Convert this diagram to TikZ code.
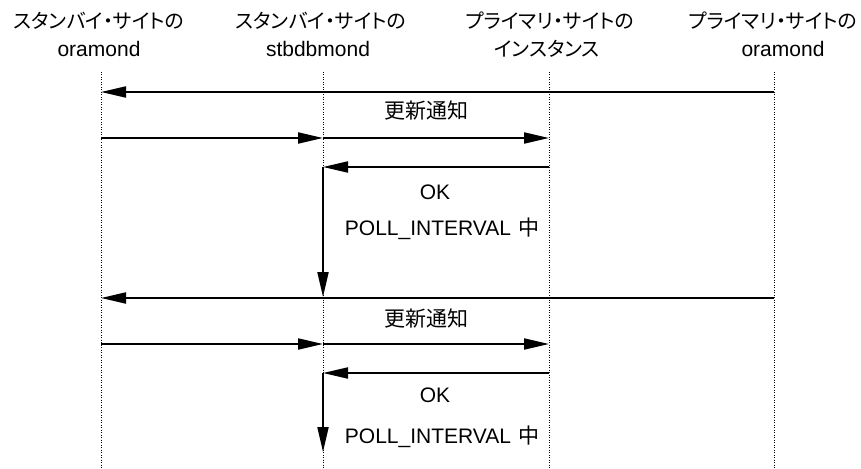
\documentclass[tikz,border=0pt]{standalone}
\usepackage{fontspec}
\setmainfont{Liberation Sans}
\newfontfamily\jp[RawFeature=+palt]{Noto Sans CJK JP}
\newfontfamily\jpk{Noto Sans CJK JP}
\usetikzlibrary{arrows.meta}
\begin{document}
\begin{tikzpicture}[x=1pt,y=-1pt,
  lifeline/.style={line width=0.9pt, dash pattern=on 0.9pt off 1.6pt},
  msg/.style={line width=2pt, -{Triangle[length=25pt,width=11pt]}},
  seg/.style={line width=2pt},
  jtxt/.style={inner sep=0, anchor=base, font=\jp\fontsize{20}{24}\selectfont},
  ltxt/.style={inner sep=0, anchor=base, font=\fontsize{21}{24}\selectfont},
  ktxt/.style={inner sep=0, anchor=base, font=\jpk\fontsize{21}{24}\selectfont}]
\useasboundingbox (0,0) rectangle (861,468);
% headers
\node[jtxt] (h1a) at (99,29) {スタンバイ・サイトの};
\node[ltxt] (h1b) at (99,57) {oramond};
\node[jtxt] (h2a) at (321,29) {スタンバイ・サイトの};
\node[ltxt] (h2b) at (318,57) {stbdbmond};
\node[jtxt] (h3a) at (550,29) {プライマリ・サイトの};
\node[jtxt] (h3b) at (547,57) {インスタンス};
\node[jtxt] (h4a) at (773,29) {プライマリ・サイトの};
\node[ltxt] (h4b) at (783,57) {oramond};
% lifelines
\foreach \n/\x in {A/101,B/323,C/549,D/774}{
  \coordinate (\n top) at (\x,72);
  \coordinate (\n bot) at (\x,468);
  \draw[lifeline] (\n top) -- (\n bot);
}
% event coordinates
\coordinate (D1) at (774,92);  \coordinate (A1) at (101,92);
\coordinate (A2) at (101,138); \coordinate (B2) at (323,138); \coordinate (C2) at (549,138);
\coordinate (C3) at (549,167); \coordinate (B3) at (323,167); \coordinate (B3e) at (323,297);
\coordinate (D4) at (774,298); \coordinate (A4) at (101,298);
\coordinate (A5) at (101,344); \coordinate (B5) at (323,344); \coordinate (C5) at (549,344);
\coordinate (C6) at (549,373); \coordinate (B6) at (323,373); \coordinate (B6e) at (323,452);
% messages
\draw[msg] (D1) -- (A1);
\draw[msg] (A2) -- (B2);
\draw[msg] (B2) -- (C2);
\draw[msg] (C3) -- (B3);
\draw[msg] (B3) -- (B3e);
\draw[msg] (D4) -- (A4);
\draw[msg] (A5) -- (B5);
\draw[msg] (B5) -- (C5);
\draw[msg] (C6) -- (B6);
\draw[msg] (B6) -- (B6e);
% labels
\node[ktxt] (u1) at (426,118.5) {更新通知};
\node[ltxt] (ok1) at (435,199) {OK};
\node[ltxt] (p1) at (442,235) {POLL\_INTERVAL\hspace{7pt}{\jpk 中}};
\node[ktxt] (u2) at (426,326) {更新通知};
\node[ltxt] (ok2) at (435,402) {OK};
\node[ltxt] (p2) at (442,443) {POLL\_INTERVAL\hspace{7pt}{\jpk 中}};
\end{tikzpicture}
\end{document}
